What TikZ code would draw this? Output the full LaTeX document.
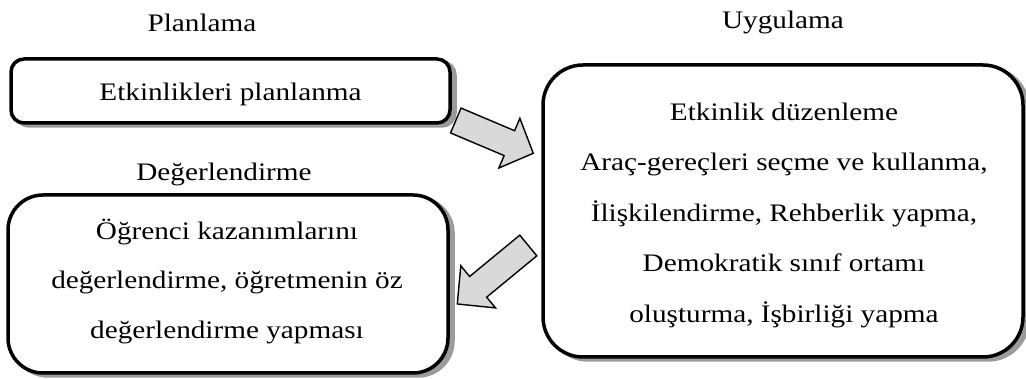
\documentclass[tikz,border=0pt]{standalone}
\usepackage{fontspec}
\setmainfont{Liberation Serif}[FakeStretch=1.16]
\usetikzlibrary{calc}
\definecolor{shadowgray}{HTML}{9B9B9B}
\definecolor{arrowgray}{HTML}{D9D9D9}
\begin{document}
\begin{tikzpicture}[x=1pt,y=-1pt,
  box/.style={draw=black, line width=3.5pt, fill=white, inner sep=0pt,
    preaction={draw=shadowgray, fill=shadowgray, line width=3.5pt,
      transform canvas={xshift=5pt,yshift=-3pt}}},
  lbl/.style={font=\fontsize{25.2}{50.5}\selectfont, inner sep=0pt, align=center},
  lbltight/.style={font=\fontsize{25.2}{49.5}\selectfont, inner sep=0pt, align=center},
  barrow/.style={draw=black, line width=1.4pt, fill=arrowgray, line join=miter}]
\useasboundingbox (0,0) rectangle (1026,379);

% boxes
\node[box, rounded corners=13pt, minimum width=439pt, minimum height=64pt] (plan) at (230.5,91) {};
\node[box, rounded corners=40pt, minimum width=480pt, minimum height=292pt] (uyg) at (783,211) {};
\node[box, rounded corners=35pt, minimum width=440pt, minimum height=178pt] (deg) at (228,284) {};

% titles
\node[lbl, anchor=base] (planlbl) at (202,31.5) {Planlama};
\node[lbl, anchor=base] (uyglbl) at (783,28.5) {Uygulama};
\node[lbl, anchor=base] (deglbl) at (224,181) {Değerlendirme};

% box texts
\node[lbl, anchor=base] (plantext) at (230.5,100.5) {Etkinlikleri planlanma};
\node[lbl] (uygtext) at (784,215) {Etkinlik düzenleme\\Araç-gereçleri seçme ve kullanma,\\İlişkilendirme, Rehberlik yapma,\\Demokratik sınıf ortamı\\oluşturma, İşbirliği yapma};
\node[lbltight] (degtext) at (227,281.5) {Öğrenci kazanımlarını\\değerlendirme, öğretmenin öz\\değerlendirme yapması};

% block arrows
\coordinate (a1s) at (455.8,120.5);
\coordinate (a1e) at (533.3,153.3);
\coordinate (a1b) at ($(a1e)!26pt!(a1s)$);
\draw[barrow] ($(a1s)!13.5pt!90:(a1e)$) -- ($(a1b)!13.5pt!90:(a1e)$) -- ($(a1b)!27pt!90:(a1e)$) -- (a1e)
  -- ($(a1b)!27pt!-90:(a1e)$) -- ($(a1b)!13.5pt!-90:(a1e)$) -- ($(a1s)!13.5pt!-90:(a1e)$) -- cycle;

\coordinate (a2s) at (528.3,245.5);
\coordinate (a2e) at (457.3,304);
\coordinate (a2b) at ($(a2e)!27pt!(a2s)$);
\draw[barrow] ($(a2s)!13.4pt!90:(a2e)$) -- ($(a2b)!13.4pt!90:(a2e)$) -- ($(a2b)!27.3pt!90:(a2e)$) -- (a2e)
  -- ($(a2b)!27.3pt!-90:(a2e)$) -- ($(a2b)!13.4pt!-90:(a2e)$) -- ($(a2s)!13.4pt!-90:(a2e)$) -- cycle;
\end{tikzpicture}
\end{document}
